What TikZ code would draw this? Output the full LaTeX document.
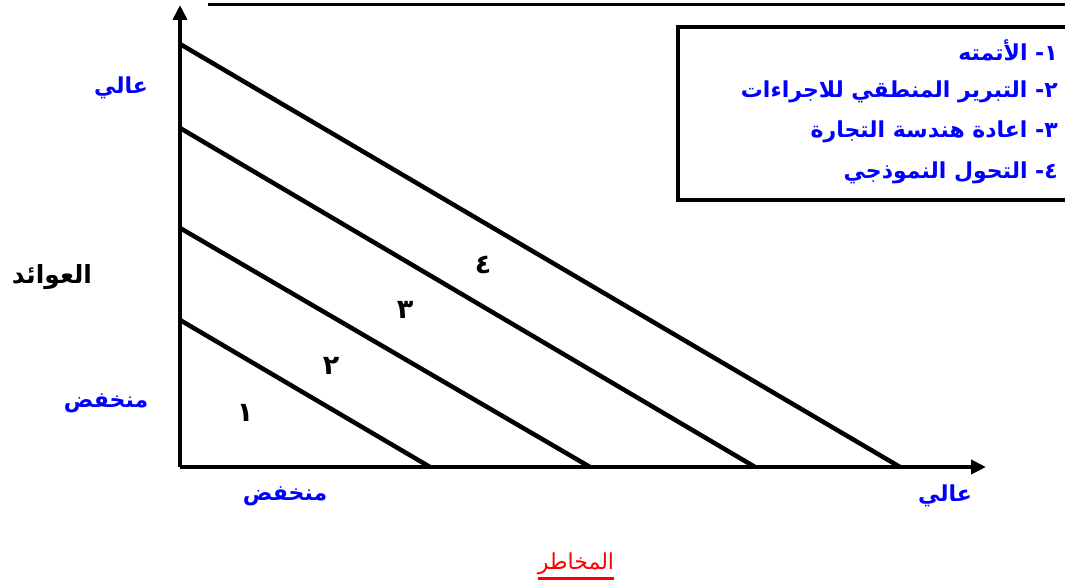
\documentclass[tikz,border=0pt]{standalone}
\usepackage{fontspec}
\usetikzlibrary{arrows.meta}
\newfontfamily\arabicfont[Script=Arabic]{DejaVu Sans}
\TeXXeTstate=1
\definecolor{lblblue}{RGB}{0,0,255}
\definecolor{lblred}{RGB}{255,0,0}
\newcommand{\artext}[1]{\beginR #1\endR}

\begin{document}
\begin{tikzpicture}[x=1pt,y=-1pt,
  axis/.style={line width=4pt,-{Triangle[length=15pt,width=14pt]}},
  band/.style={line width=4.5pt},
  lbl/.style={font=\arabicfont\bfseries\fontsize{22}{26}\selectfont,text=lblblue,inner sep=0pt},
  zone/.style={font=\arabicfont\bfseries\fontsize{27}{30}\selectfont,inner sep=0pt},
  leg/.style={font=\arabicfont\bfseries\fontsize{22}{26}\selectfont,text=lblblue,inner sep=0pt,anchor=east}]
\useasboundingbox (0,0) rectangle (1065,585);
% axes
\coordinate (O) at (180,467);
\coordinate (ytop) at (180,5);
\coordinate (xend) at (986,467);
\draw[axis] (O) -- (ytop);
\draw[axis] (O) -- (xend);
\draw[line width=3.5pt] (208,4.5) -- (1070,4.5);
% the four parallel lines
\draw[band] (180,320) -- (430,467);
\draw[band] (180,228) -- (590,467);
\draw[band] (180,128) -- (755,467);
\draw[band] (180,44) -- (900,467);
\node[zone] (z1) at (245,413) {\artext{١}};
\node[zone] (z2) at (331,366) {\artext{٢}};
\node[zone] (z3) at (405,310) {\artext{٣}};
\node[zone] (z4) at (483,265) {\artext{٤}};
% legend
\draw[line width=3.5pt] (678,27) rectangle (1075,200);
\node[leg] (leg1) at (1058,50) {\artext{١- الأتمته}};
\node[leg] (leg2) at (1058,92) {\artext{٢- التبرير المنطقي للاجراءات}};
\node[leg] (leg3) at (1058,132) {\artext{٣- اعادة هندسة التجارة}};
\node[leg] (leg4) at (1058,173) {\artext{٤- التحول النموذجي}};
% axis labels
\node[lbl] (yhigh) at (121,88) {\artext{عالي}};
\node[lbl] (ylow) at (106,403) {\artext{منخفض}};
\node[zone,font=\arabicfont\bfseries\fontsize{25}{28}\selectfont] (yname) at (52,277) {\artext{العوائد}};
\node[lbl] (xlow) at (285,496) {\artext{منخفض}};
\node[lbl] (xhigh) at (945,496) {\artext{عالي}};
\node[font=\arabicfont\fontsize{22}{26}\selectfont,text=lblred,inner sep=0pt] (xname) at (576,564) {\artext{المخاطر}};
\draw[lblred,line width=3pt] ([yshift=-3pt]xname.south west) -- ([yshift=-3pt]xname.south east);
\end{tikzpicture}
\end{document}
